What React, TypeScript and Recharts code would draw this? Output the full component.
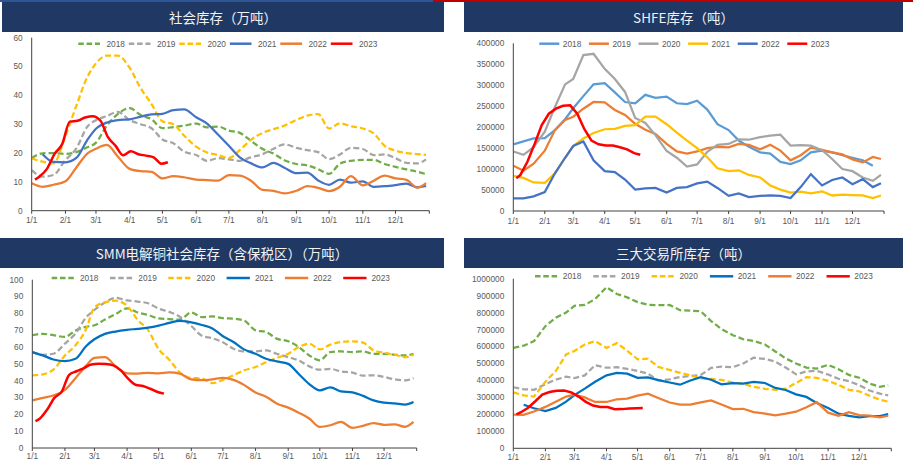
import { LineChart, Line, XAxis, YAxis } from 'recharts'

// day-of-year sample positions shared by the 2018–2022 series
const DAYS = [0, 10, 20, 31, 41, 51, 59, 69, 79, 90, 100, 110, 120, 130, 140, 151, 161, 171, 181, 191, 201, 212, 222, 232, 243, 253, 263, 273, 283, 293, 304, 314, 324, 334, 344, 354, 362]
// 2023 is only available up to early May, sampled weekly
const DAYS_2023 = [3, 7, 14, 21, 28, 35, 42, 49, 56, 63, 70, 77, 84, 91, 98, 105, 112, 119, 125]

const MONTH_DAYS = [0, 31, 59, 90, 120, 151, 181, 212, 243, 273, 304, 334, 365]
const MONTH_LABELS = ['1/1', '2/1', '3/1', '4/1', '5/1', '6/1', '7/1', '8/1', '9/1', '10/1', '11/1', '12/1', '']
const YEARS = ['2018', '2019', '2020', '2021', '2022', '2023']

const SOC_TICKS = [0, 10, 20, 30, 40, 50, 60]
const SHFE_TICKS = [0, 50000, 100000, 150000, 200000, 250000, 300000, 350000, 400000]
const SMM_TICKS = [0, 10, 20, 30, 40, 50, 60, 70, 80, 90, 100]
const EX_TICKS = [0, 100000, 200000, 300000, 400000, 500000, 600000, 700000, 800000, 900000, 1000000]

// 社会库存（万吨）
const SOC_2018 = [18.2, 19.9, 20.0, 19.7, 20.3, 22.0, 23.6, 29.5, 33.5, 35.6, 33.2, 31.7, 28.6, 29.0, 29.5, 30.2, 28.9, 29.2, 27.8, 27.0, 24.3, 21.4, 19.8, 17.5, 16.2, 15.7, 14.4, 12.8, 16.3, 17.3, 17.6, 17.6, 16.2, 15.2, 14.3, 13.5, 12.7]
const SOC_2019 = [14.1, 11.8, 12.4, 17.6, 21.6, 29.1, 31.4, 32.8, 34.3, 31.4, 30.0, 28.6, 24.7, 23.4, 20.5, 19.3, 17.3, 18.2, 17.8, 17.3, 18.5, 19.6, 21.5, 23.0, 21.8, 21.0, 20.3, 17.9, 19.5, 21.8, 21.4, 19.3, 19.5, 18.2, 16.6, 16.4, 17.8]
const SOC_2020 = [18.2, 17.0, 16.4, 26.0, 36.4, 46.3, 51.1, 53.8, 53.8, 49.5, 42.5, 37.0, 31.0, 30.0, 26.0, 22.2, 20.2, 19.3, 18.3, 21.0, 24.5, 27.0, 28.3, 29.5, 31.5, 33.0, 33.5, 28.5, 30.3, 29.3, 28.5, 26.8, 22.5, 20.8, 20.0, 19.6, 19.4]
const SOC_2021 = [null, 19.6, 16.9, 16.8, 18.3, 24.5, 28.4, 30.6, 31.4, 31.7, 32.6, 33.4, 33.6, 34.9, 35.1, 32.4, 30.2, 26.4, 22.5, 18.5, 16.5, 15.0, 16.6, 14.9, 13.0, 13.2, 10.5, 9.0, 10.8, 9.7, 10.2, 8.3, 8.5, 8.9, 9.4, 8.1, 8.6]
const SOC_2022 = [9.5, 8.3, 9.0, 10.2, 15.0, 19.8, 21.5, 22.8, 18.8, 14.5, 13.7, 13.5, 11.2, 12.0, 11.6, 10.8, 10.6, 10.4, 12.3, 12.2, 10.5, 7.2, 6.9, 6.0, 6.9, 8.5, 7.9, 6.8, 8.3, 12.0, 8.8, 10.4, 12.2, 11.2, 10.7, 8.0, 9.6]
const SOC_2023 = [10.8, 11.8, 14.5, 19.7, 23.1, 30.9, 31.2, 32.3, 32.8, 31.3, 25.5, 22.5, 19.2, 20.6, 19.6, 19.1, 18.5, 16.3, 16.8]

// SHFE库存（吨）
const SHFE_2018 = [159000, 166000, 173000, 174000, 193000, 219000, 245000, 274000, 302000, 305000, 283000, 260000, 257000, 277000, 270000, 273000, 257000, 255000, 263000, 242000, 207000, 193000, 168000, 153000, 140000, 137000, 117000, 112000, 121000, 140000, 144000, 140000, 133000, 127000, 121000, 108000, null]
const SHFE_2019 = [108000, 96000, 113000, 144000, 193000, 217000, 225000, 244000, 260000, 259000, 241000, 229000, 208000, 194000, 184000, 160000, 142000, 137000, 142000, 150000, 153000, 152000, 160000, 158000, 147000, 158000, 144000, 121000, 133000, 151000, 146000, 140000, 135000, 123000, 116000, 129000, 124000]
const SHFE_2020 = [142000, 134000, 152000, 189000, 248000, 302000, 315000, 372000, 375000, 339000, 315000, 284000, 222000, 210000, 181000, 143000, 127000, 106000, 111000, 141000, 158000, 160000, 171000, 170000, 176000, 180000, 182000, 156000, 157000, 156000, 145000, 124000, 100000, 95000, 80000, 72000, 86000]
const SHFE_2021 = [84000, 79000, 68000, 67000, 90000, 127000, 155000, 173000, 186000, 195000, 196000, 203000, 205000, 225000, 225000, 207000, 187000, 168000, 150000, 128000, 102000, 95000, 97000, 86000, 80000, 61000, 51000, 44000, 46000, 42000, 47000, 37000, 39000, 38000, 37000, 31000, 37000]
const SHFE_2022 = [30000, 30000, 35000, 45000, 90000, 127000, 155000, 166000, 121000, 95000, 93000, 75000, 51000, 54000, 55000, 44000, 55000, 57000, 66000, 70000, 55000, 36000, 42000, 33000, 36000, 37000, 36000, 31000, 57000, 88000, 61000, 74000, 80000, 64000, 76000, 57000, 66000]
const SHFE_2023 = [78000, 86000, 118000, 160000, 205000, 232000, 244000, 251000, 252000, 232000, 195000, 168000, 159000, 156000, 156000, 152000, 147000, 138000, 134000]

// SMM电解铜社会库存（含保税区）（万吨）
const SMM_2018 = [67.0, 67.8, 67.0, 66.0, 69.8, 72.0, 72.9, 76.3, 79.5, 83.0, 80.5, 79.0, 77.0, 76.6, 76.3, 80.5, 77.8, 78.2, 77.1, 76.8, 75.8, 69.9, 68.9, 65.0, 63.4, 60.0, 55.0, 52.1, 57.0, 57.4, 57.0, 57.4, 56.0, 56.0, 55.4, 55.0, 56.0]
const SMM_2019 = [57.0, 55.4, 56.0, 62.0, 68.0, 77.5, 82.0, 86.5, 89.2, 87.7, 87.0, 86.0, 82.8, 80.9, 78.0, 72.5, 66.7, 65.2, 62.8, 59.0, 57.4, 57.4, 58.0, 56.0, 54.0, 52.0, 48.5, 46.5, 47.0, 45.5, 44.8, 43.0, 43.2, 42.2, 40.8, 40.2, 41.5]
const SMM_2020 = [43.2, 43.8, 46.5, 55.0, 61.0, 70.5, 83.5, 86.6, 87.5, 84.5, 76.2, 70.0, 58.7, 52.5, 45.0, 41.6, 41.3, 38.5, 40.5, 43.2, 46.1, 48.1, 51.0, 53.5, 56.0, 60.0, 62.0, 58.6, 61.4, 63.0, 63.4, 62.6, 58.0, 56.6, 55.4, 54.0, 55.4]
const SMM_2021 = [57.0, 55.0, 52.6, 51.6, 53.0, 60.5, 64.6, 67.8, 69.2, 70.2, 70.8, 71.5, 72.7, 74.3, 75.6, 74.7, 73.1, 71.0, 66.4, 63.0, 58.6, 56.0, 53.0, 51.5, 50.0, 44.0, 38.0, 34.3, 36.0, 33.7, 33.0, 31.0, 28.3, 27.0, 26.5, 25.8, 27.3]
const SMM_2022 = [28.3, 29.8, 31.2, 34.5, 41.5, 48.8, 53.5, 54.0, 48.7, 44.4, 44.2, 44.7, 44.4, 44.9, 44.2, 40.8, 40.3, 40.8, 41.6, 40.5, 37.5, 33.0, 30.5, 26.5, 24.0, 21.0, 17.5, 12.5, 13.5, 15.5, 12.0, 13.2, 14.8, 13.8, 14.0, 12.6, 15.5]
const SMM_2023 = [16.0, 17.4, 22.7, 29.8, 33.5, 43.5, 45.6, 47.5, 49.6, 50.0, 49.9, 49.1, 46.1, 41.2, 37.6, 36.8, 35.2, 33.3, 32.3]

// 三大交易所库存（吨）
const EX_2018 = [592000, 605000, 632000, 720000, 770000, 800000, 840000, 845000, 880000, 950000, 910000, 890000, 862000, 846000, 844000, 845000, 814000, 812000, 808000, 750000, 703000, 667000, 643000, 633000, 612000, 571000, 530000, 500000, 476000, 470000, 492000, 466000, 433000, 416000, 382000, 362000, 372000]
const EX_2019 = [360000, 348000, 345000, 378000, 405000, 422000, 414000, 430000, 490000, 475000, 478000, 468000, 456000, 440000, 400000, 407000, 420000, 426000, 432000, 474000, 482000, 478000, 500000, 534000, 527000, 511000, 476000, 436000, 453000, 457000, 435000, 410000, 396000, 372000, 341000, 322000, 312000]
const EX_2020 = [330000, 312000, 305000, 393000, 455000, 553000, 574000, 612000, 632000, 592000, 620000, 575000, 525000, 528000, 480000, 462000, 445000, 430000, 412000, 409000, 404000, 388000, 381000, 362000, 351000, 345000, 352000, 385000, 420000, 415000, 398000, 374000, 345000, 336000, 310000, 286000, 275000]
const EX_2021 = [null, 257000, 236000, 220000, 238000, 275000, 314000, 352000, 392000, 430000, 445000, 440000, 415000, 418000, 402000, 388000, 375000, 400000, 420000, 404000, 377000, 384000, 381000, 391000, 385000, 356000, 344000, 318000, 303000, 267000, 238000, 204000, 191000, 183000, 189000, 190000, 202000]
const EX_2022 = [198000, 197000, 217000, 244000, 275000, 305000, 316000, 300000, 273000, 273000, 289000, 293000, 311000, 322000, 297000, 270000, 257000, 257000, 271000, 282000, 258000, 231000, 233000, 213000, 205000, 194000, 204000, 216000, 242000, 272000, 210000, 191000, 213000, 196000, 193000, 183000, 192000]
const EX_2023 = [200000, 211000, 238000, 276000, 317000, 332000, 339000, 341000, 330000, 305000, 274000, 252000, 244000, 243000, 230000, 231000, 234000, 236000, 238000]

type SeriesStyle = { color: string; dash?: boolean }

const STYLE_SOC: SeriesStyle[] = [
  { color: '#70AD47', dash: true },
  { color: '#A5A5A5', dash: true },
  { color: '#FFC000', dash: true },
  { color: '#4472C4' },
  { color: '#ED7D31' },
  { color: '#FF0000' },
]
const STYLE_SHFE: SeriesStyle[] = [
  { color: '#5B9BD5' },
  { color: '#ED7D31' },
  { color: '#A5A5A5' },
  { color: '#FFC000' },
  { color: '#4472C4' },
  { color: '#FF0000' },
]
const STYLE_SMM: SeriesStyle[] = [
  { color: '#70AD47', dash: true },
  { color: '#A5A5A5', dash: true },
  { color: '#FFC000', dash: true },
  { color: '#0070C0' },
  { color: '#ED7D31' },
  { color: '#FF0000' },
]

const FONT = '"Liberation Sans", Arial, sans-serif'
const CJK = '"Noto Sans CJK SC", "Noto Sans", sans-serif'
const TEXT = '#595959'
const AXIS = '#404040'
const DASH = '6 3'

interface PanelDef {
  x: number; y: number; w: number; h: number
  margin: { top: number; right: number; bottom: number; left: number }
  yw: number
  ticks: number[]
  tickGap: number
  curve: 'monotone' | 'linear'
  series: (number | null)[][]
  last: number[]
  styles: SeriesStyle[]
}

function Panel({ p }: { p: PanelDef }) {
  const rows = DAYS.map((day, i) => {
    const r: Record<string, number | null> = { day }
    p.series.forEach((s, k) => { r['y' + YEARS[k]] = s[i] })
    return r
  })
  const lastRows = DAYS_2023.map((day, i) => ({ day, y2023: p.last[i] }))
  const yMax = p.ticks[p.ticks.length - 1]

  return (
    <div style={{ position: 'absolute', left: p.x, top: p.y }}>
      <LineChart width={p.w} height={p.h} data={rows} margin={p.margin}>
        <XAxis
          dataKey="day" type="number" domain={[0, 365]} ticks={MONTH_DAYS} interval={0}
          tickFormatter={(v) => MONTH_LABELS[MONTH_DAYS.indexOf(v)] ?? ''}
          tick={{ fontSize: 8.3, fill: TEXT }} tickSize={3} tickMargin={p.tickGap}
          stroke={AXIS} height={20} allowDataOverflow
        />
        <YAxis
          type="number" domain={[0, yMax]} ticks={p.ticks} interval={0}
          tickFormatter={(v) => String(v)} tickLine={false} tickSize={6} tickMargin={3}
          tick={{ fontSize: 8.3, fill: TEXT }} stroke={AXIS} width={p.yw} allowDataOverflow
        />
        {p.series.map((_, k) => (
          <Line
            key={YEARS[k]} dataKey={'y' + YEARS[k]} type={p.curve}
            stroke={p.styles[k].color} strokeWidth={2.25}
            strokeDasharray={p.styles[k].dash ? DASH : undefined}
            dot={false} activeDot={false} isAnimationActive={false}
          />
        ))}
        <Line
          data={lastRows} dataKey="y2023" type={p.curve} stroke={p.styles[5].color} strokeWidth={2.5}
          dot={false} activeDot={false} isAnimationActive={false}
        />
      </LineChart>
    </div>
  )
}

function Legend({ x, y, step, len, gap, styles }: { x: number; y: number; step: number; len: number; gap: number; styles: SeriesStyle[] }) {
  return (
    <g>
      {YEARS.map((yr, k) => {
        const x0 = x + k * step
        return (
          <g key={yr}>
            <line x1={x0} x2={x0 + len} y1={y} y2={y} stroke={styles[k].color} strokeWidth={2.5}
              strokeDasharray={styles[k].dash ? '5.5 2.8' : undefined} />
            <text x={x0 + len + gap} y={y} dy="0.35em" fontSize={8.3} fill={TEXT}>{yr}</text>
          </g>
        )
      })}
    </g>
  )
}

function Header({ x, y, w, title }: { x: number; y: number; w: number; title: string }) {
  return (
    <div style={{
      position: 'absolute', left: x, top: y, width: w, height: 30, background: '#1F3864',
      color: '#F2F2F2', fontFamily: CJK, fontSize: 13.5, lineHeight: '30px', textAlign: 'center',
    }}>{title}</div>
  )
}

const PANELS: PanelDef[] = [
  {
    x: 0, y: 34, w: 440, h: 200, margin: { top: 3.7, right: 10.7, bottom: 3.3, left: 0 }, yw: 31.7,
    ticks: SOC_TICKS, tickGap: 3, curve: 'monotone',
    series: [SOC_2018, SOC_2019, SOC_2020, SOC_2021, SOC_2022], last: SOC_2023, styles: STYLE_SOC,
  },
  {
    x: 456, y: 34, w: 450, h: 200, margin: { top: 9.3, right: 22, bottom: 3, left: 0 }, yw: 57.3,
    ticks: SHFE_TICKS, tickGap: 4.5, curve: 'linear',
    series: [SHFE_2018, SHFE_2019, SHFE_2020, SHFE_2021, SHFE_2022], last: SHFE_2023, styles: STYLE_SHFE,
  },
  {
    x: 0, y: 270, w: 440, h: 200, margin: { top: 9.7, right: 23.3, bottom: 2, left: 0 }, yw: 32.3,
    ticks: SMM_TICKS, tickGap: 2.5, curve: 'monotone',
    series: [SMM_2018, SMM_2019, SMM_2020, SMM_2021, SMM_2022], last: SMM_2023, styles: STYLE_SMM,
  },
  {
    x: 456, y: 270, w: 450, h: 200, margin: { top: 8.7, right: 14.7, bottom: 1.7, left: 0 }, yw: 57.3,
    ticks: EX_TICKS, tickGap: 3.2, curve: 'linear',
    series: [EX_2018, EX_2019, EX_2020, EX_2021, EX_2022], last: EX_2023, styles: STYLE_SMM,
  },
]

export default function App() {
  return (
    <div style={{
      position: 'absolute', left: 0, top: 0, width: 913, height: 471, overflow: 'hidden',
      background: '#fff', fontFamily: FONT,
    }}>
      <div style={{ position: 'absolute', left: 0, top: 0, width: 433, height: 1.5, background: '#2F5597' }} />
      <div style={{ position: 'absolute', left: 433, top: 0, width: 480, height: 2, background: '#C00000' }} />
      <Header x={2} y={2} w={442} title="社会库存（万吨）" />
      <Header x={464} y={2} w={439} title="SHFE库存（吨）" />
      <Header x={0} y={238} w={444} title="SMM电解铜社会库存（含保税区）（万吨）" />
      <Header x={464} y={238} w={439} title="三大交易所库存（吨）" />
      {PANELS.map((p, i) => <Panel key={i} p={p} />)}
      <svg width={913} height={471} style={{ position: 'absolute', left: 0, top: 0, pointerEvents: 'none', zIndex: 5 }}>
        <Legend x={78.3} y={43.7} step={50.5} len={21.7} gap={6.5} styles={STYLE_SOC} />
        <Legend x={539.3} y={43.7} step={49.6} len={20} gap={3.5} styles={STYLE_SHFE} />
        <Legend x={51.7} y={278} step={58.3} len={23.3} gap={5} styles={STYLE_SMM} />
        <Legend x={535} y={276.3} step={58.3} len={23.3} gap={4.5} styles={STYLE_SMM} />
      </svg>
    </div>
  )
}
